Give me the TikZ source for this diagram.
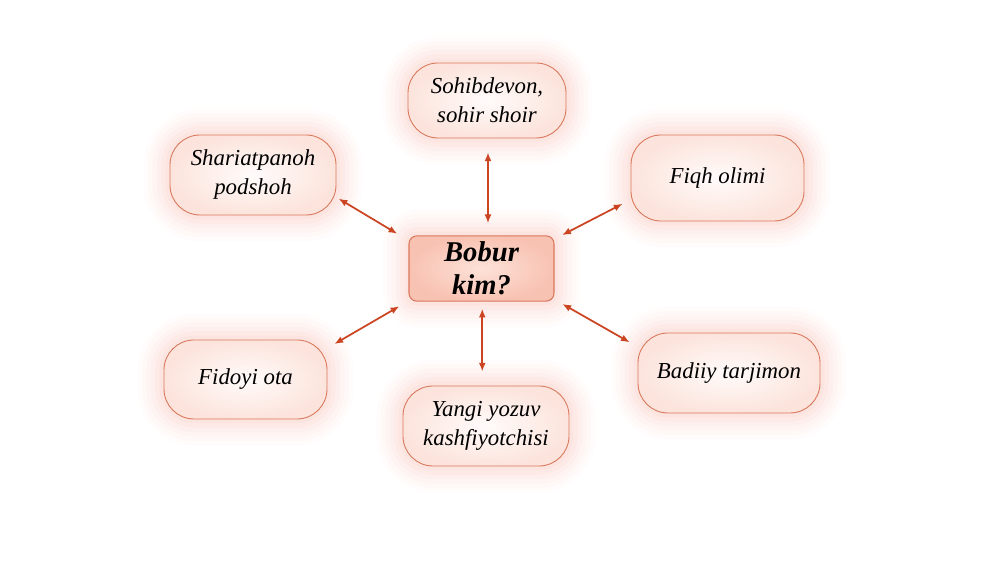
\documentclass[tikz,border=0pt]{standalone}
\usepackage{fontspec}
\setmainfont{Liberation Serif}
\usetikzlibrary{arrows.meta}

\definecolor{edgec}{HTML}{D9775A}
\definecolor{glowc}{HTML}{F7B0A4}
\definecolor{linkc}{HTML}{CC4522}
\definecolor{leafin}{HTML}{FFFBFA}
\definecolor{leafout}{HTML}{FCE4DC}
\definecolor{hubin}{HTML}{FDE2D8}
\definecolor{hubout}{HTML}{F8C2B2}

\tikzset{
    glow/.style={
        preaction={draw=glowc, line width=30pt, opacity=0.04},
        preaction={draw=glowc, line width=25pt, opacity=0.05},
        preaction={draw=glowc, line width=20pt, opacity=0.06},
        preaction={draw=glowc, line width=15pt, opacity=0.07},
        preaction={draw=glowc, line width=10pt, opacity=0.08},
        preaction={draw=glowc, line width=5pt, opacity=0.09}},
    leaf/.style={glow, draw=edgec, line width=0.5pt, rounded corners=0.6cm,
        inner color=leafin, outer color=leafout,
        align=center, font=\fontsize{13}{16.5}\selectfont\itshape},
    hub/.style={glow, draw=edgec, line width=0.6pt, rounded corners=0.16cm,
        inner color=hubin, outer color=hubout,
        minimum width=2.9cm, minimum height=1.3cm,
        align=center, font=\fontsize{16.3}{19}\selectfont\bfseries\itshape},
    link/.style={{Latex[length=5pt,width=4pt]}-{Latex[length=5pt,width=4pt]}, draw=linkc, line width=1pt}
}

\begin{document}
\begin{tikzpicture}
    \useasboundingbox (0, 0) rectangle (20, 11.24);

    \node[hub] (bobur) at (9.63, 5.87) {Bobur\\kim?};

    \node[leaf, minimum width=3.16cm, minimum height=1.5cm] (sohib) at (9.74, 9.23) {Sohibdevon,\\sohir shoir};
    \node[leaf, minimum width=3.32cm, minimum height=1.6cm] (shar) at (5.06, 7.74) {Shariatpanoh\\podshoh};
    \node[leaf, minimum width=3.46cm, minimum height=1.72cm] (fiqh) at (14.35, 7.68) {Fiqh olimi};
    \node[leaf, minimum width=3.26cm, minimum height=1.58cm] (fidoyi) at (4.91, 3.65) {Fidoyi ota};
    \node[leaf, minimum width=3.64cm, minimum height=1.6cm] (badiiy) at (14.58, 3.78) {Badiiy tarjimon};
    \node[leaf, minimum width=3.32cm, minimum height=1.6cm] (yangi) at (9.72, 2.72) {Yangi yozuv\\kashfiyotchisi};

    % links to the hub
    \draw[link, shorten <=0.05cm, shorten >=0.26cm] (shar.-15.4) -- (bobur.159.6);
    \draw[link, shorten <=0.28cm, shorten >=0.24cm] ([xshift=0.02cm]sohib.south) -- ([xshift=0.02cm]sohib.south |- bobur.north);
    \draw[link, shorten <=0.18cm, shorten >=0.17cm] (fiqh.194.9) -- (bobur.22.8);
    \draw[link, shorten <=0.16cm, shorten >=0.21cm] (fidoyi.21.8) -- (bobur.204.4);
    \draw[link, shorten <=0.14cm, shorten >=0.28cm] ([xshift=0.015cm]bobur.south) -- ([xshift=0.015cm]bobur.south |- yangi.north);
    \draw[link, shorten <=0.18cm, shorten >=0.18cm] (badiiy.164.3) -- (bobur.-23.8);
\end{tikzpicture}
\end{document}
